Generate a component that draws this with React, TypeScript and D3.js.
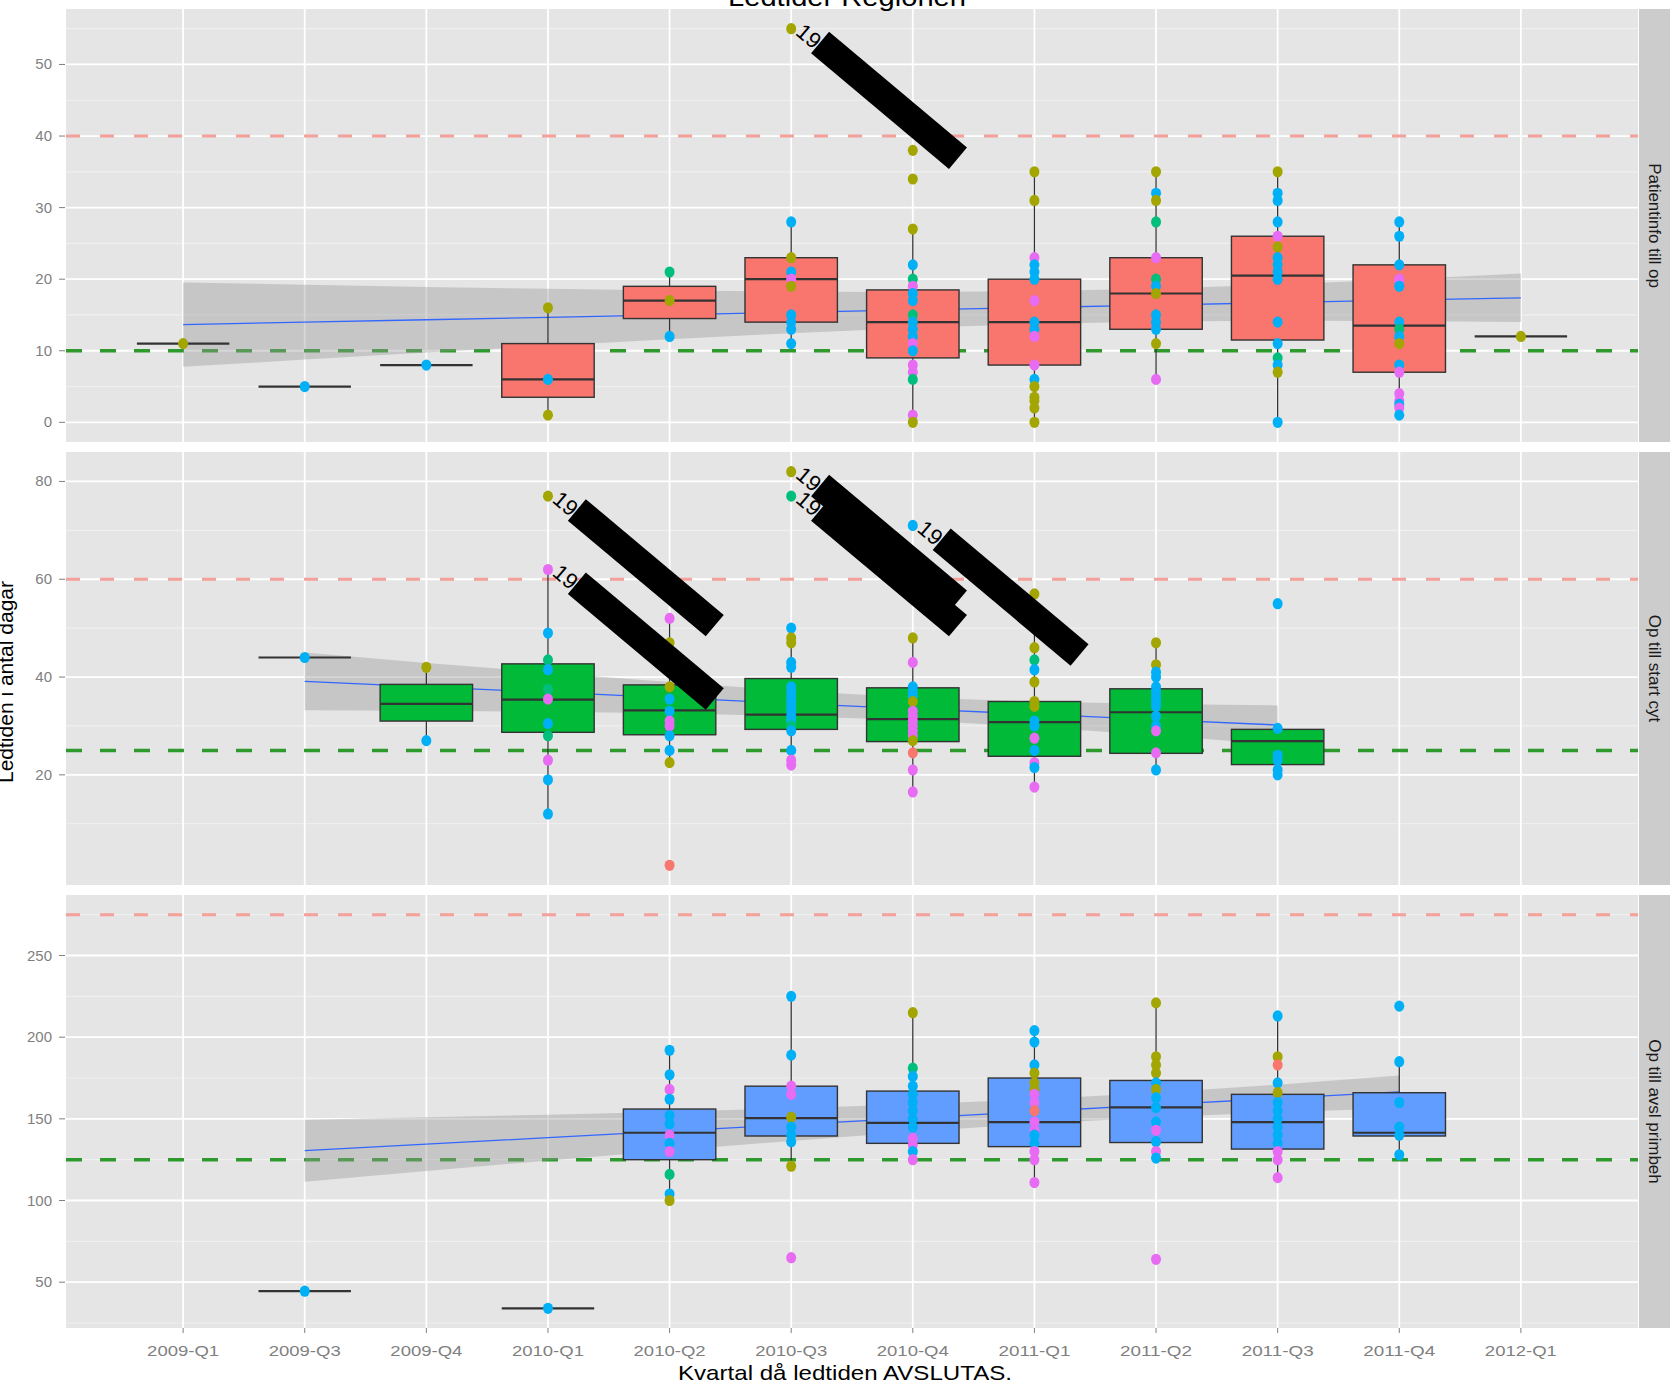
import React from 'react';
import * as d3 from 'd3';

// quarters on the x axis (discrete)
const quarters = [
  '2009-Q1', '2009-Q3', '2009-Q4', '2010-Q1', '2010-Q2', '2010-Q3',
  '2010-Q4', '2011-Q1', '2011-Q2', '2011-Q3', '2011-Q4', '2012-Q1',
];
const facets = ['Patientinfo till op', 'Op till start cyt', 'Op till avsl primbeh'];
const redLimit = [40, 60, 275];
const greenLimit = [10, 25, 125];
const yTicks = [
  [0, 10, 20, 30, 40, 50],
  [20, 40, 60, 80],
  [50, 100, 150, 200, 250],
];

// box stats: quarter, lower whisker, q1, median, q3, upper whisker
type Box = [string, number, number, number, number, number];
const boxes1: Box[] = [
  ['2009-Q1', 11, 11, 11, 11, 11],
  ['2009-Q3', 5, 5, 5, 5, 5],
  ['2009-Q4', 8, 8, 8, 8, 8],
  ['2010-Q1', 1, 3.5, 6, 11, 16],
  ['2010-Q2', 12, 14.5, 17, 19, 21],
  ['2010-Q3', 11, 14, 20, 23, 28],
  ['2010-Q4', 0, 9, 14, 18.5, 27],
  ['2011-Q1', 0, 8, 14, 20, 35],
  ['2011-Q2', 6, 13, 18, 23, 35],
  ['2011-Q3', 0, 11.5, 20.5, 26, 35],
  ['2011-Q4', 1, 7, 13.5, 22, 28],
  ['2012-Q1', 12, 12, 12, 12, 12],
];
const boxes2: Box[] = [
  ['2009-Q3', 44, 44, 44, 44, 44],
  ['2009-Q4', 27, 31, 34.5, 38.5, 42],
  ['2010-Q1', 12, 28.7, 35.4, 42.7, 62],
  ['2010-Q2', 22.5, 28.2, 33.2, 38.4, 52],
  ['2010-Q3', 22, 29.3, 32.3, 39.7, 50],
  ['2010-Q4', 16.5, 26.8, 31.4, 37.8, 48],
  ['2011-Q1', 17.5, 23.8, 30.8, 35, 57],
  ['2011-Q2', 21, 24.4, 32.8, 37.6, 47],
  ['2011-Q3', 20, 22.1, 26.9, 29.3, 29.5],
];
const boxes3: Box[] = [
  ['2009-Q3', 44.5, 44.5, 44.5, 44.5, 44.5],
  ['2010-Q1', 34, 34, 34, 34, 34],
  ['2010-Q2', 100, 125, 141.5, 156, 192],
  ['2010-Q3', 121, 139.5, 150.5, 170, 225],
  ['2010-Q4', 125, 135, 147.5, 167, 215],
  ['2011-Q1', 111, 133, 148, 175, 204],
  ['2011-Q2', 126, 135.5, 157, 173.5, 221],
  ['2011-Q3', 114, 131.5, 148, 165, 213],
  ['2011-Q4', 128, 139.5, 141.5, 166, 185],
];

// points: quarter, values, group letter per value
type Pts = [string, number[], string];
const points1: Pts[] = [
  ['2009-Q1', [11], 'o'],
  ['2009-Q3', [5], 'b'],
  ['2009-Q4', [8], 'b'],
  ['2010-Q1', [16, 6, 1], 'obo'],
  ['2010-Q2', [21, 17, 12], 'gob'],
  ['2010-Q3', [55, 28, 23, 21, 20, 19, 15, 14, 13, 11], 'obobpobbbb'],
  ['2010-Q4', [38, 34, 27, 22, 20, 19, 18, 17, 15, 14, 13, 12, 11, 10, 8, 7, 6, 1, 0], 'ooobgpbbgbbbpbppgpo'],
  ['2011-Q1', [35, 31, 23, 22, 21, 20, 17, 14, 13, 12, 8, 6, 5, 3.5, 3, 2, 0], 'oopbbbpbbppbooooo'],
  ['2011-Q2', [35, 32, 31, 28, 23, 20, 19, 18, 15, 14, 13, 11, 6], 'obogpgbobbbop'],
  ['2011-Q3', [35, 32, 31, 28, 26, 24.5, 23, 22, 21, 20, 14, 11, 9, 8, 7, 0], 'obbbpobbbbbbgbob'],
  ['2011-Q4', [28, 26, 22, 20, 19.5, 19, 14, 13, 12, 11, 8, 7, 4, 3, 2.5, 2, 1], 'bbbppbbgbobpppbpb'],
  ['2012-Q1', [12], 'o'],
];
const points2: Pts[] = [
  ['2009-Q3', [44], 'b'],
  ['2009-Q4', [42, 27], 'ob'],
  ['2010-Q1', [77, 62, 49, 43.5, 41.5, 37.5, 35.5, 30.5, 28, 23, 19, 12], 'opbgbgpbgpbb'],
  ['2010-Q2', [52, 47, 38, 35.5, 33, 31, 30, 28, 25, 22.5, 1.5], 'poobbppbbor'],
  ['2010-Q3', [82, 77, 50, 48, 47, 43, 42, 38, 37, 36, 35, 34, 33, 32, 31, 30, 29, 25, 23, 22], 'ogboobbbbbbbbbbgbbpp'],
  ['2010-Q4', [71, 48, 43, 38, 37, 36, 35, 33, 32, 31, 30, 29, 28, 27, 24.5, 21, 16.5], 'bopbbbopppppporpp'],
  ['2011-Q1', [57, 46, 43.5, 41.5, 39, 35, 34, 31, 30, 27.5, 25, 22.5, 21.5, 17.5], 'oogbooobbpbpbp'],
  ['2011-Q2', [47, 42.5, 41, 40, 38, 37, 36, 35, 34, 32, 30, 29, 24.5, 21], 'oobbbbbbbbbppb'],
  ['2011-Q3', [55, 29.5, 24, 23, 21, 20], 'bbbbbb'],
];
const points3: Pts[] = [
  ['2009-Q3', [44.5], 'b'],
  ['2010-Q1', [34], 'b'],
  ['2010-Q2', [192, 177, 168, 162, 152, 147, 140, 135, 130, 116, 104, 100], 'bbpbbbpbpgbo'],
  ['2010-Q3', [225, 189, 170, 165, 151, 145, 140, 136, 121, 65], 'bbppobbbop'],
  ['2010-Q4', [215, 181, 176, 170, 165, 160, 155, 150, 145, 138, 134, 130, 125], 'ogbbbbbbbppbp'],
  ['2011-Q1', [204, 197, 183, 178, 172, 168, 165, 160, 155, 148, 143, 140, 135, 130, 125, 111], 'bbbooopprppbbppp'],
  ['2011-Q2', [221, 188, 183, 178, 172, 168, 163, 157, 148, 143, 136, 130, 126, 64], 'oooobobbbpbpbp'],
  ['2011-Q3', [213, 188, 183, 172, 166, 160, 155, 150, 145, 140, 135, 130, 125, 114], 'borbobbbbbbppp'],
  ['2011-Q4', [219, 185, 160, 145, 140, 128], 'bbbbbb'],
];

// linear smooth with confidence band
const smoothX1 = quarters;
const smoothFit1 = [13.65, 13.99, 14.33, 14.67, 15.01, 15.36, 15.7, 16.04, 16.38, 16.72, 17.06, 17.4];
const smoothLo1 = [7.75, 8.76, 9.74, 10.69, 11.6, 12.46, 13.18, 13.74, 14.08, 14.2, 14.16, 14.0];
const smoothHi1 = [19.55, 19.22, 18.92, 18.65, 18.42, 18.26, 18.22, 18.34, 18.68, 19.24, 19.96, 20.8];
const smoothX2 = ['2009-Q3', '2009-Q4', '2010-Q1', '2010-Q2', '2010-Q3', '2010-Q4', '2011-Q1', '2011-Q2', '2011-Q3'];
const smoothFit2 = [39.1, 38.0, 36.9, 35.8, 34.6, 33.5, 32.4, 31.3, 30.2];
const smoothLo2 = [33.2, 33.1, 32.9, 32.6, 32.0, 31.2, 29.8, 28.1, 26.2];
const smoothHi2 = [45.0, 42.9, 40.9, 39.0, 37.2, 35.8, 35.0, 34.5, 34.2];
const smoothX3 = ['2009-Q3', '2009-Q4', '2010-Q1', '2010-Q2', '2010-Q3', '2010-Q4', '2011-Q1', '2011-Q2', '2011-Q3', '2011-Q4'];
const smoothFit3 = [130.5, 134.5, 138.5, 142.5, 146.5, 150.5, 154.5, 158.5, 162.5, 166.5];
const smoothLo3 = [111.5, 118.0, 124.5, 130.6, 136.5, 142.1, 147.0, 151.0, 154.1, 156.5];
const smoothHi3 = [149.5, 151.0, 152.5, 154.4, 156.5, 158.9, 162.0, 166.0, 170.9, 176.5];

// labelled (redacted) outliers: panel, quarter, value
const labels: [number, string, number][] = [
  [0, '2010-Q3', 55],
  [1, '2010-Q1', 77],
  [1, '2010-Q1', 62],
  [1, '2010-Q3', 82],
  [1, '2010-Q3', 77],
  [1, '2010-Q4', 71],
];

const groupColor: Record<string, string> = {
  r: '#F8766D', o: '#A3A500', g: '#00BF7D', b: '#00B0F6', p: '#E76BF3',
};
const boxFill = ['#F8766D', '#00BA38', '#619CFF'];

const panels = [
  { boxes: boxes1, points: points1, sx: smoothX1, fit: smoothFit1, lo: smoothLo1, hi: smoothHi1 },
  { boxes: boxes2, points: points2, sx: smoothX2, fit: smoothFit2, lo: smoothLo2, hi: smoothHi2 },
  { boxes: boxes3, points: points3, sx: smoothX3, fit: smoothFit3, lo: smoothLo3, hi: smoothHi3 },
];

const W = 1670;
const H = 1383;
const left = 66;
const right = 1638;
const tops = [9, 452, 895];
const ph = 433;
const font = 'Liberation Sans, Arial, Helvetica, sans-serif';

export default function App() {
  const x = d3.scalePoint<string>().domain(quarters).range([left, right]).padding(0.963);
  const bw = x.step() * 0.76;

  return (
    <svg width={W} height={H} style={{ position: 'absolute', left: 0, top: 0, background: '#fff' }} fontFamily={font}>
      {panels.map((p, i) => {
        const top = tops[i];
        const vals: number[] = [redLimit[i], greenLimit[i]];
        p.points.forEach((d) => vals.push(...d[1]));
        p.boxes.forEach((d) => vals.push(d[1], d[5]));
        vals.push(...p.lo, ...p.hi);
        const [mn, mx] = d3.extent(vals) as [number, number];
        const pad = (mx - mn) * 0.05;
        const y = d3.scaleLinear().domain([mn - pad, mx + pad]).range([top + ph, top]);
        const ticks = yTicks[i];
        const s = ticks[1] - ticks[0];
        const minors = [ticks[0] - s / 2, ...ticks.map((t) => t + s / 2)].filter(
          (v) => v > y.domain()[0] && v < y.domain()[1]
        );
        const band = d3
          .area<number>()
          .x((_, k) => x(p.sx[k]) as number)
          .y0((d) => y(d))
          .y1((_, k) => y(p.hi[k]));
        const line = d3
          .line<number>()
          .x((_, k) => x(p.sx[k]) as number)
          .y((d) => y(d));
        return (
          <g key={i}>
            <rect x={left} y={top} width={right - left} height={ph} fill="#E5E5E5" />
            {minors.map((v) => (
              <line key={'m' + v} x1={left} x2={right} y1={y(v)} y2={y(v)} stroke="#F0F0F0" strokeWidth={1.2} />
            ))}
            {ticks.map((v) => (
              <line key={'t' + v} x1={left} x2={right} y1={y(v)} y2={y(v)} stroke="#fff" strokeWidth={1.8} />
            ))}
            {quarters.map((q) => (
              <line key={q} x1={x(q)} x2={x(q)} y1={top} y2={top + ph} stroke="#fff" strokeWidth={1.8} />
            ))}
            <line x1={left} x2={right} y1={y(redLimit[i])} y2={y(redLimit[i])} stroke="#F4A09B" strokeWidth={3} strokeDasharray="14 20" />
            <line x1={left} x2={right} y1={y(greenLimit[i])} y2={y(greenLimit[i])} stroke="#2E9A2E" strokeWidth={3.5} strokeDasharray="16 18" />
            <path d={band(p.lo) || ''} fill="#999999" opacity={0.4} />
            <path d={line(p.fit) || ''} fill="none" stroke="#3366FF" strokeWidth={1.3} />
            {p.boxes.map((b) => {
              const cx = x(b[0]) as number;
              return (
                <g key={b[0]}>
                  <line x1={cx} x2={cx} y1={y(b[1])} y2={y(b[5])} stroke="#333" strokeWidth={1.3} />
                  <rect x={cx - bw / 2} y={y(b[4])} width={bw} height={Math.max(0, y(b[2]) - y(b[4]))} fill={boxFill[i]} stroke="#333" strokeWidth={1.4} />
                  <line x1={cx - bw / 2} x2={cx + bw / 2} y1={y(b[3])} y2={y(b[3])} stroke="#333" strokeWidth={2.2} />
                </g>
              );
            })}
            {p.points.map((d) =>
              d[1].map((v, k) => (
                <ellipse key={d[0] + k} cx={x(d[0])} cy={y(v)} rx={5} ry={5.6} fill={groupColor[d[2][k]]} />
              ))
            )}
            {labels
              .filter((l) => l[0] === i)
              .map((l, k) => (
                <g key={'l' + k} transform={`translate(${x(l[1])},${y(l[2])}) rotate(40)`}>
                  <text x={6} y={2} fontSize={22} fill="#000">19</text>
                  <rect x={31} y={-22} width={180} height={28} fill="#000" />
                </g>
              ))}
            {ticks.map((v) => (
              <g key={'yt' + v}>
                <line x1={59} x2={65} y1={y(v)} y2={y(v)} stroke="#7F7F7F" strokeWidth={1} />
                <text x={52} y={y(v) + 5} fontSize={15} fill="#7F7F7F" textAnchor="end">{v}</text>
              </g>
            ))}
            <rect x={right + 1} y={top} width={W - right - 1} height={ph} fill="#CCCCCC" />
            <text transform={`translate(${right + 16},${top + ph / 2}) rotate(90)`} fontSize={17} textAnchor="middle" dominantBaseline="central" fill="#1A1A1A">
              {facets[i]}
            </text>
          </g>
        );
      })}
      {quarters.map((q) => (
        <g key={'xt' + q}>
          <line x1={x(q)} x2={x(q)} y1={tops[2] + ph} y2={tops[2] + ph + 5} stroke="#7F7F7F" strokeWidth={1} />
          <text x={x(q)} y={1356} fontSize={15} fill="#7F7F7F" textAnchor="middle" textLength={72} lengthAdjust="spacingAndGlyphs">{q}</text>
        </g>
      ))}
      <text x={845} y={1380} fontSize={21} textAnchor="middle" fill="#000" textLength={334} lengthAdjust="spacingAndGlyphs">Kvartal då ledtiden AVSLUTAS.</text>
      <text transform="translate(13,682) rotate(-90)" fontSize={21} textAnchor="middle" fill="#000">Ledtiden i antal dagar</text>
      <text x={847} y={6} fontSize={25} textAnchor="middle" fill="#000" textLength={238} lengthAdjust="spacingAndGlyphs">Ledtider Regionen</text>
    </svg>
  );
}
